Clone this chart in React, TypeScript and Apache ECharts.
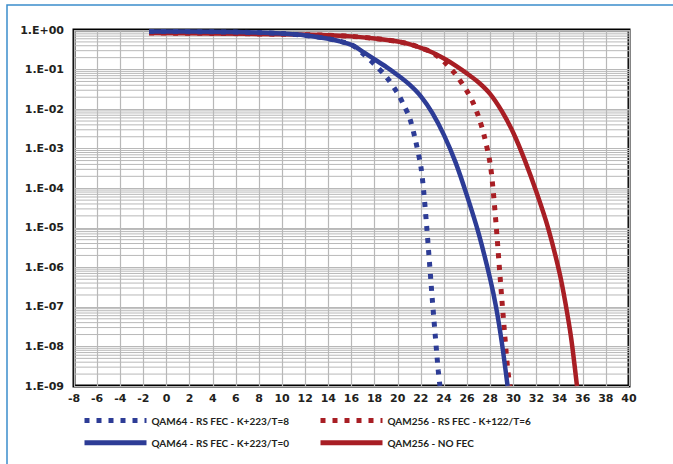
import React, { useEffect, useRef } from "react";
import * as echarts from "echarts";

// X axis (SNR, dB) and Y axis (BER, log) ranges
const xMin = -8;
const xMax = 40;
const xStep = 2;
const yMin = 1e-9;
const yMax = 1;

// Series names
const nameBlueDot = "QAM64 - RS FEC - K+223/T=8";
const nameRedDot = "QAM256 - RS FEC - K+122/T=6";
const nameBlueSolid = "QAM64 - RS FEC - K+223/T=0";
const nameRedSolid = "QAM256 - NO FEC";

// QAM64 - RS FEC - K+223/T=0 (solid blue)
const blueSolidX = [-1.5, 4, 8, 10, 12, 14, 16, 17, 18, 19, 20, 21, 22, 23, 24, 25, 26, 27, 28, 28.5, 29, 29.5];
const blueSolidY = [0.92, 0.9, 0.86, 0.81, 0.73, 0.6, 0.42, 0.28, 0.18, 0.117, 0.072, 0.042, 0.021, 7.9e-3, 2.2e-3, 4.5e-4, 6.3e-5, 7.1e-6, 5e-7, 1e-7, 1.26e-8, 1e-9];

// QAM64 - RS FEC - K+223/T=8 (dotted blue)
const blueDotX = [-1.5, 4, 8, 10, 12, 14, 16, 17, 18, 19, 20, 20.5, 21, 21.5, 22, 22.25, 22.5, 22.75, 23, 23.25, 23.5, 23.65];
const blueDotY = [0.92, 0.9, 0.86, 0.81, 0.73, 0.6, 0.42, 0.25, 0.135, 0.066, 0.025, 0.013, 6.3e-3, 1.8e-3, 3.5e-4, 7.9e-5, 1.1e-5, 1.26e-6, 1.4e-7, 1.8e-8, 2.5e-9, 1e-9];

// QAM256 - NO FEC (solid red)
const redSolidX = [-1.5, 4, 10, 14, 16, 18, 20, 21, 22, 23, 24, 25, 26, 27, 28, 29, 30, 31, 32, 33, 34, 34.5, 35, 35.5];
const redSolidY = [0.84, 0.82, 0.78, 0.74, 0.69, 0.61, 0.51, 0.44, 0.355, 0.27, 0.19, 0.126, 0.079, 0.047, 0.024, 8.9e-3, 2.5e-3, 5e-4, 7.9e-5, 1e-5, 7.1e-7, 1.26e-7, 1.6e-8, 1e-9];

// QAM256 - RS FEC - K+122/T=6 (dotted red)
const redDotX = [-1.5, 4, 10, 14, 16, 18, 20, 21, 22, 23, 24, 25, 26, 26.5, 27, 27.5, 28, 28.25, 28.5, 28.75, 29, 29.25, 29.5, 29.7];
const redDotY = [0.84, 0.82, 0.78, 0.74, 0.69, 0.61, 0.51, 0.44, 0.355, 0.27, 0.158, 0.076, 0.028, 0.0148, 6.3e-3, 2e-3, 4e-4, 8.9e-5, 1.26e-5, 1.4e-6, 1.6e-7, 2e-8, 2.8e-9, 1e-9];

// Minor log grid values (2..9 x 10^n)
const minorMultipliers = [2, 3, 4, 5, 6, 7, 8, 9];
const minorDecades = [-9, -8, -7, -6, -5, -4, -3, -2, -1];

const BLUE = "#2d3c96";
const RED = "#a81e24";
const GRID = "#b8b8b8";
const TEXT = "#231f20";

const zip = (xs: number[], ys: number[]) => xs.map((x, i) => [x, ys[i]]);

const fmtLog = (v: number) => {
  const e = Math.round(Math.log10(v));
  return "1.E" + (e >= 0 ? "+" : "-") + String(Math.abs(e)).padStart(2, "0");
};

export default function App() {
  const ref = useRef<HTMLDivElement>(null);

  useEffect(() => {
    document.body.style.margin = "0";
    if (!ref.current) return;
    const chart = echarts.init(ref.current, undefined, { renderer: "svg" });

    // minor horizontal grid lines as broken segments across the plot
    const minorLines: (number | string)[][] = [];
    minorDecades.forEach((n) =>
      minorMultipliers.forEach((k) => {
        const v = k * Math.pow(10, n);
        minorLines.push([xMin, v], [xMax, v], [xMin, "-"]);
      })
    );

    const axisFont = {
      fontFamily: "'DejaVu Sans', sans-serif",
      fontWeight: "bold" as const,
      fontSize: 11,
      color: TEXT,
    };
    const legendCommon = {
      orient: "vertical" as const,
      top: 410,
      itemWidth: 62,
      itemHeight: 14,
      itemGap: 11,
      lineStyle: { width: 5 },
      itemStyle: { opacity: 0, color: "rgba(0,0,0,0)", borderWidth: 0 },
      textStyle: {
        fontFamily: "Lato, sans-serif",
        fontWeight: "bold" as const,
        fontSize: 10,
        color: TEXT,
      },
    };

    const dotted = [5, 7];

    chart.setOption({
      animation: false,
      backgroundColor: "#fff",
      graphic: [
        {
          type: "rect",
          silent: true,
          z: -10,
          shape: { x: 7, y: 5, width: 720, height: 520 },
          style: { fill: "none", stroke: "#3b8dcb", lineWidth: 1.5 },
        },
      ],
      grid: {
        left: 74,
        right: 44,
        top: 30,
        bottom: 78,
        show: true,
        borderColor: "#000",
        borderWidth: 3,
      },
      legend: [
        { ...legendCommon, left: 77, data: [nameBlueDot, nameBlueSolid] },
        { ...legendCommon, left: 313, data: [nameRedDot, nameRedSolid] },
      ],
      xAxis: {
        type: "value",
        min: xMin,
        max: xMax,
        interval: xStep,
        axisLine: { show: false },
        axisTick: { show: false },
        splitLine: { show: true, lineStyle: { color: GRID, width: 1.2 } },
        axisLabel: { ...axisFont, margin: 7 },
      },
      yAxis: {
        type: "log",
        logBase: 10,
        min: yMin,
        max: yMax,
        splitNumber: 9,
        axisLine: { show: false },
        axisTick: { show: false },
        splitLine: { show: true, lineStyle: { color: GRID, width: 1 } },
        axisLabel: {
          ...axisFont,
          margin: 10,
          padding: [6, 0, 0, 0],
          formatter: (v: number) => fmtLog(v),
        },
      },
      series: [
        {
          type: "line",
          data: minorLines,
          silent: true,
          z: 1,
          symbol: "none",
          showSymbol: false,
          connectNulls: false,
          lineStyle: { color: GRID, width: 1 },
          emphasis: { disabled: true },
        },
        {
          name: nameRedDot,
          type: "line",
          data: zip(redDotX, redDotY),
          showSymbol: false,
          symbol: "none",
          smooth: 0.3,
          z: 3,
          lineStyle: { color: RED, width: 5, type: dotted, cap: "butt" },
          itemStyle: { color: RED },
        },
        {
          name: nameRedSolid,
          type: "line",
          data: zip(redSolidX, redSolidY),
          showSymbol: false,
          symbol: "none",
          smooth: 0.3,
          z: 4,
          lineStyle: { color: RED, width: 4.5, type: "solid" },
          itemStyle: { color: RED },
        },
        {
          name: nameBlueDot,
          type: "line",
          data: zip(blueDotX, blueDotY),
          showSymbol: false,
          symbol: "none",
          smooth: 0.3,
          z: 5,
          lineStyle: { color: BLUE, width: 5, type: dotted, cap: "butt" },
          itemStyle: { color: BLUE },
        },
        {
          name: nameBlueSolid,
          type: "line",
          data: zip(blueSolidX, blueSolidY),
          showSymbol: false,
          symbol: "none",
          smooth: 0.3,
          z: 6,
          lineStyle: { color: BLUE, width: 4.5, type: "solid" },
          itemStyle: { color: BLUE },
        },
      ],
    });

    return () => chart.dispose();
  }, []);

  return <div ref={ref} style={{ width: 673, height: 464 }} />;
}
